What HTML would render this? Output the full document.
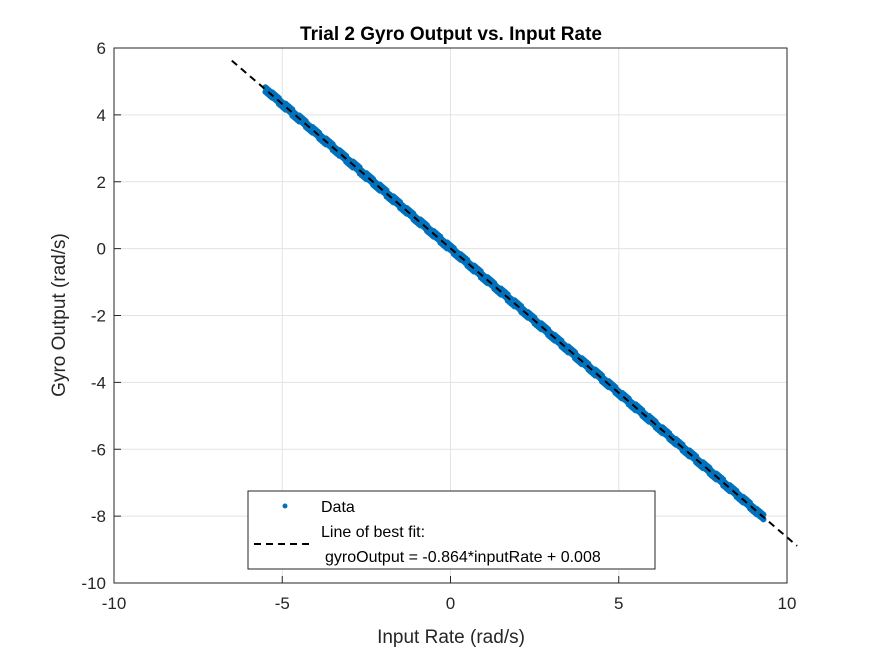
<!DOCTYPE html>
<html><head><meta charset="utf-8"><style>
body{margin:0;background:#fff;}
text{font-family:"Liberation Sans",Arial,sans-serif;}
</style></head><body>
<svg id="chart" width="875" height="656" xmlns="http://www.w3.org/2000/svg">
<rect width="875" height="656" fill="#fff"/>
<g id="grid"></g>
<g id="pts"></g>
<g id="fit"></g>
<rect x="114" y="48" width="673" height="535" fill="none" stroke="#262626" stroke-width="1"/>
<g id="ticks"></g>
<text x="451" y="40" text-anchor="middle" font-size="19" font-weight="bold" fill="#000">Trial 2 Gyro Output vs. Input Rate</text>
<text x="451" y="643" text-anchor="middle" font-size="19" fill="#262626">Input Rate (rad/s)</text>
<text transform="translate(65,315) rotate(-90)" text-anchor="middle" font-size="19" fill="#262626">Gyro Output (rad/s)</text>
<g>
<rect x="248" y="491" width="407" height="78" fill="#fff" stroke="#262626" stroke-width="1"/>
<circle cx="285" cy="506" r="2.5" fill="#0072BD"/>
<text x="321" y="512" font-size="16" fill="#000">Data</text>
<line x1="254" y1="544" x2="310" y2="544" stroke="#000" stroke-width="2" stroke-dasharray="7,5"/>
<text x="321" y="537" font-size="16" fill="#000">Line of best fit:</text>
<text x="325" y="562" font-size="16" fill="#000">gyroOutput = -0.864*inputRate + 0.008</text>
</g>
</svg>
<script>
const xTicks=[-10,-5,0,5,10];
const yTicks=[6,4,2,0,-2,-4,-6,-8,-10];
const dataX=[-5.4,-5.2,-5.0,-4.8,-4.6,-4.4,-4.2,-4.0,-3.8,-3.6,-3.4,-3.2,-3.0,-2.8,-2.6,-2.4,-2.2,-2.0,-1.8,-1.6,-1.4,-1.2,-1.0,-0.8,-0.6,-0.4,-0.2,0,0.2,0.4,0.6,0.8,1.0,1.2,1.4,1.6,1.8,2.0,2.2,2.4,2.6,2.8,3.0,3.2,3.4,3.6,3.8,4.0,4.2,4.4,4.6,4.8,5.0,5.2,5.4,5.6,5.8,6.0,6.2,6.4,6.6,6.8,7.0,7.2,7.4,7.6,7.8,8.0,8.2,8.4,8.6,8.8,9.0,9.2];
const dataY=[4.67,4.52,4.31,4.18,3.96,3.83,3.62,3.48,3.27,3.14,2.93,2.79,2.58,2.45,2.23,2.10,1.89,1.76,1.54,1.41,1.20,1.06,0.85,0.72,0.51,0.37,0.16,0.03,-0.18,-0.32,-0.53,-0.66,-0.88,-1.01,-1.22,-1.35,-1.57,-1.70,-1.91,-2.05,-2.26,-2.39,-2.60,-2.74,-2.95,-3.08,-3.30,-3.43,-3.64,-3.77,-3.99,-4.12,-4.33,-4.47,-4.68,-4.81,-5.02,-5.16,-5.37,-5.50,-5.71,-5.85,-6.06,-6.19,-6.41,-6.54,-6.75,-6.88,-7.10,-7.23,-7.44,-7.58,-7.79,-7.94];
const fitSlope=[-0.864];
const fitIntercept=[0.008];
const fitRange=[-6.5,10.3];
const NS="http://www.w3.org/2000/svg";
const X0=114,X1=787,Y0=583,Y1=48;
const sx=v=>X0+(v+10)/20*(X1-X0);
const sy=v=>Y0-(v+10)/16*(Y0-Y1);
function mk(t,a,p){const e=document.createElementNS(NS,t);for(const k in a)e.setAttribute(k,a[k]);p.appendChild(e);return e;}
const grid=document.getElementById('grid'),ticks=document.getElementById('ticks');
xTicks.forEach(v=>{
 const g=mk('line',{x1:sx(v),x2:sx(v),y1:Y1,y2:Y0,stroke:'#e3e3e3','stroke-width':1},grid);
 
 
 const t=mk('line',{x1:sx(v),x2:sx(v),y1:Y0,y2:Y0-7,stroke:'#262626'},ticks);
 
 
 const l=mk('text',{x:sx(v),y:Y0+26,'text-anchor':'middle','font-size':17,fill:'#262626'},ticks);
 l.textContent=v;
 
 
});
yTicks.forEach(v=>{
 const g=mk('line',{x1:X0,x2:X1,y1:sy(v),y2:sy(v),stroke:'#e3e3e3','stroke-width':1},grid);
 
 
 const t=mk('line',{x1:X0,x2:X0+7,y1:sy(v),y2:sy(v),stroke:'#262626'},ticks);
 
 
 const l=mk('text',{x:X0-8,y:sy(v)+6,'text-anchor':'end','font-size':17,fill:'#262626'},ticks);
 l.textContent=v;
 
 
});
const pts=document.getElementById('pts');
dataX.forEach((x,i)=>{
 [-0.1,-0.05,0,0.05,0.1].forEach(d=>{
  [-0.07,0.07].forEach(e=>{
   const c=mk('circle',{cx:sx(x+d),cy:sy(dataY[i]+fitSlope[0]*d+e),r:3,fill:'#0072BD'},pts);
   
   
  });
 });
});
const f=mk('line',{x1:sx(fitRange[0]),y1:sy(fitSlope[0]*fitRange[0]+fitIntercept[0]),x2:sx(fitRange[1]),y2:sy(fitSlope[0]*fitRange[1]+fitIntercept[0]),stroke:'#000','stroke-width':2,'stroke-dasharray':'7,5'},document.getElementById('fit'));


</script>
</body></html>
